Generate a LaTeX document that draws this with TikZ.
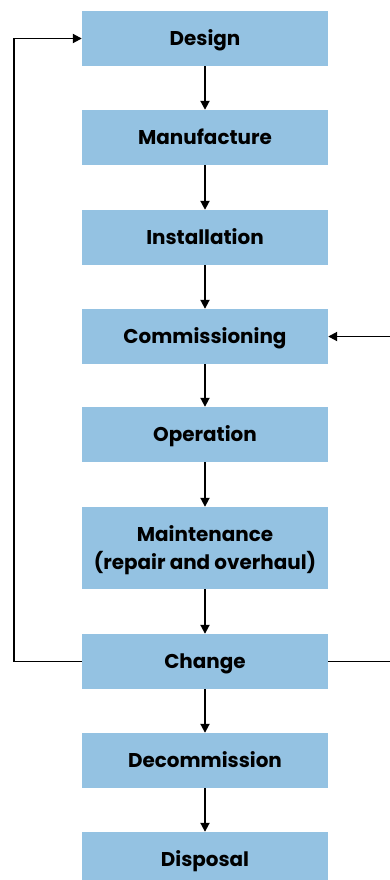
\documentclass[tikz,border=0pt]{standalone}
\usepackage{fontspec}
\setmainfont{Poppins}
\usetikzlibrary{arrows.meta,positioning,calc}
\definecolor{StageBlue}{RGB}{148,194,226}

\begin{document}
\begin{tikzpicture}[x=1bp,y=-1bp,>={Triangle[length=9bp,width=9bp]},
  stage/.style={fill=StageBlue,minimum width=246bp,minimum height=55bp,inner sep=0pt,
    align=center,text height=15bp,text depth=1bp,font=\fontsize{20}{28}\selectfont\bfseries},
  flow/.style={->,line width=1.9bp}]
  \useasboundingbox (0,0) rectangle (389,880);
  \node[stage] (design) at (205,38.5) {Design};
  \node[stage] (manufacture) at (205,137.5) {Manufacture};
  \node[stage] (installation) at (205,237.5) {Installation};
  \node[stage] (commissioning) at (205,336.5) {Commissioning};
  \node[stage] (operation) at (205,434.5) {Operation};
  \node[stage,minimum height=82bp,text height=43bp] (maintenance) at (205,548) {Maintenance\\(repair and overhaul)};
  \node[stage] (change) at (205,661.5) {Change};
  \node[stage] (decommission) at (205,760.5) {Decommission};
  \node[stage] (disposal) at (205,859.5) {Disposal};
  \draw[flow] (design) -- (manufacture);
  \draw[flow] (manufacture) -- (installation);
  \draw[flow] (installation) -- (commissioning);
  \draw[flow] (commissioning) -- (operation);
  \draw[flow] (operation) -- (maintenance);
  \draw[flow] (maintenance) -- (change);
  \draw[flow] (change) -- (decommission);
  \draw[flow] (decommission) -- (disposal);
  % feedback loops
  \coordinate (lret) at (14,661.5);
  \coordinate (rret) at (391,661.5);
  \draw[flow] (change.west) -- (lret) |- (design.west);
  \draw[flow] (change.east) -- (rret) |- (commissioning.east);
\end{tikzpicture}
\end{document}
